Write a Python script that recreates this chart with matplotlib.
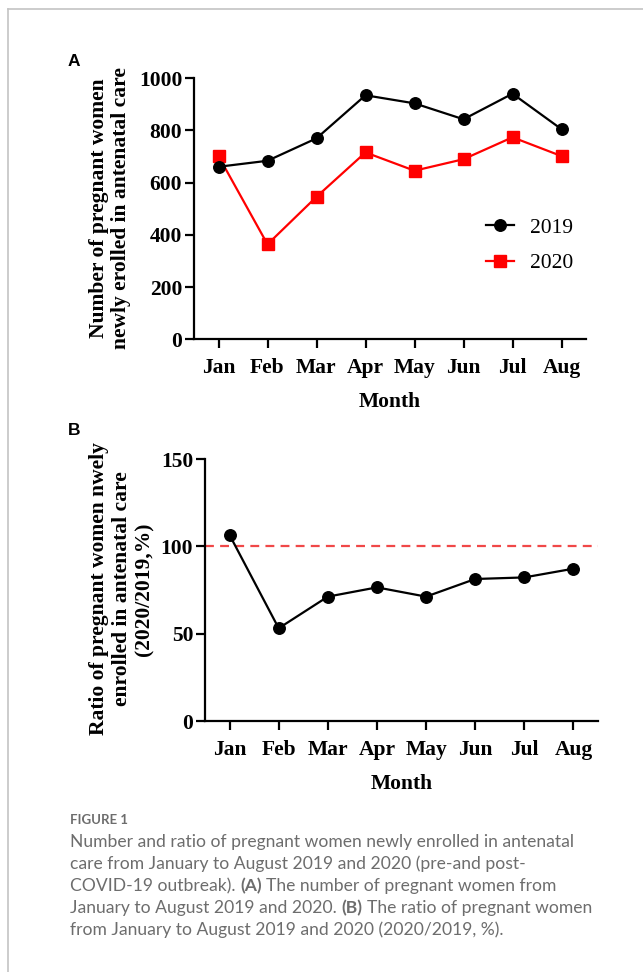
import matplotlib
matplotlib.use("Agg")
import matplotlib.pyplot as plt
from matplotlib.lines import Line2D

months = ['Jan', 'Feb', 'Mar', 'Apr', 'May', 'Jun', 'Jul', 'Aug']
n2019 = [661, 684, 770, 935, 904, 843, 941, 805]
n2020 = [702, 364, 546, 716, 646, 690, 774, 702]
ratio = [106.5, 53.1, 71.2, 76.5, 71.2, 81.3, 82.2, 87.2]
ref_line = 100
yticks_a = [0, 200, 400, 600, 800, 1000]
yticks_b = [0, 50, 100, 150]

W, H = 643, 972
fig = plt.figure(figsize=(W / 100, H / 100), dpi=100)
fig.patch.set_facecolor('white')

SERIF = ['Liberation Serif', 'DejaVu Serif']
TICKFS = 15.5


def px_rect(l, t, r, b):
    return [l / W, 1 - b / H, (r - l) / W, (b - t) / H]


def style_axes(ax):
    for s in ['top', 'right']:
        ax.spines[s].set_visible(False)
    for s in ['left', 'bottom']:
        ax.spines[s].set_linewidth(1.6)
    ax.tick_params(axis='both', direction='out', length=6.5, width=1.6,
                   labelsize=TICKFS)
    ax.tick_params(axis='x', pad=7)
    ax.tick_params(axis='y', pad=2)
    for lab in ax.get_xticklabels() + ax.get_yticklabels():
        lab.set_fontfamily(SERIF)
        lab.set_fontweight('bold')


x = list(range(len(months)))

# ---------- Panel A ----------
axA = fig.add_axes(px_rect(194, 78.3, 586, 339.3))
axA.plot(x, n2019, color='black', lw=1.6, marker='o', ms=8.3, label='2019',
         clip_on=False, zorder=3)
axA.plot(x, n2020, color='#ff0000', lw=1.6, marker='s', ms=8.5, label='2020',
         clip_on=False, zorder=2)
axA.set_xlim(-0.5, 7.5)
axA.set_ylim(0, 1000)
axA.set_yticks(yticks_a)
axA.set_xticks(x)
axA.set_xticklabels(months)
style_axes(axA)
axA.set_xlabel('Month', fontfamily=SERIF, fontweight='bold', fontsize=TICKFS,
               labelpad=10)
leg = axA.legend(loc='upper left', bbox_to_anchor=(0.745, 0.466), frameon=False,
                 prop={'family': SERIF, 'size': 15.5}, handlelength=1.3,
                 handletextpad=0.75, labelspacing=0.72, borderpad=0,
                 borderaxespad=0)

fig.text(110 / W, 1 - 208 / H,
         'Number of pregnant women\nnewly erolled in antenatal care',
         rotation=90, ha='center', va='center', multialignment='center',
         fontfamily=SERIF, fontweight='bold', fontsize=TICKFS, linespacing=1.18)
fig.text(74 / W, 1 - 61 / H, 'A', ha='center', va='center',
         fontfamily='Liberation Sans', fontweight='bold', fontsize=12.5)

# ---------- Panel B ----------
axB = fig.add_axes(px_rect(205, 459, 598, 721))
axB.axhline(ref_line, color='#f04848', lw=1.6, ls=(0, (4, 2.8)), zorder=1)
axB.plot(x, ratio, color='black', lw=1.6, marker='o', ms=8.3, clip_on=False,
         zorder=3)
axB.set_xlim(-0.5, 7.5)
axB.set_ylim(0, 150)
axB.set_yticks(yticks_b)
axB.set_xticks(x)
axB.set_xticklabels(months)
style_axes(axB)
axB.set_xlabel('Month', fontfamily=SERIF, fontweight='bold', fontsize=TICKFS,
               labelpad=10)

fig.text(122 / W, 1 - 589 / H,
         'Ratio of pregnant women nwely\nenrolled in antenatal care\n(2020/2019,%)',
         rotation=90, ha='center', va='center', multialignment='center',
         fontfamily=SERIF, fontweight='bold', fontsize=TICKFS, linespacing=1.18)
fig.text(74 / W, 1 - 430 / H, 'B', ha='center', va='center',
         fontfamily='Liberation Sans', fontweight='bold', fontsize=12.5)

# ---------- Frame ----------
fig.add_artist(Line2D([8 / W, 1.0], [1 - 9 / H, 1 - 9 / H], color='#c4c4c4',
                      lw=1.2, transform=fig.transFigure))
fig.add_artist(Line2D([8 / W, 8 / W], [1 - 9 / H, 0.0], color='#c4c4c4',
                      lw=1.2, transform=fig.transFigure))

# ---------- Caption ----------
CAPC = '#6d6d6d'
CAPF = ['Lato', 'DejaVu Sans']
CAPFS = 12.6
fig.text(70 / W, 1 - 820 / H, 'FIGURE 1', ha='left', va='center',
         fontfamily=CAPF, fontweight='bold', fontsize=9.5, color=CAPC)

cap_lines = [
    [('Number and ratio of pregnant women newly enrolled in antenatal', 'normal')],
    [('care from January to August 2019 and 2020 (pre-and post-', 'normal')],
    [('COVID-19 outbreak).', 'normal'), ('(A)', 'bold'),
     ('The number of pregnant women from', 'normal')],
    [('January to August 2019 and 2020.', 'normal'), ('(B)', 'bold'),
     ('The ratio of pregnant women', 'normal')],
    [('from January to August 2019 and 2020 (2020/2019, %).', 'normal')],
]
cap_y = [842, 864, 886, 908, 930]

renderer = fig.canvas.get_renderer()
tmp = fig.text(0, 0, 'a a', fontfamily=CAPF, fontsize=CAPFS)
w1 = tmp.get_window_extent(renderer).width
tmp.set_text('aa')
w2 = tmp.get_window_extent(renderer).width
tmp.remove()
space_w = w1 - w2

for segs, yy in zip(cap_lines, cap_y):
    xx = 70.0
    for i, (txt, wt) in enumerate(segs):
        t = fig.text(xx / W, 1 - yy / H, txt, ha='left', va='center',
                     fontfamily=CAPF, fontweight=wt, fontsize=CAPFS, color=CAPC)
        xx += t.get_window_extent(renderer).width + space_w

fig.savefig('out.png', dpi=100, facecolor='white')
